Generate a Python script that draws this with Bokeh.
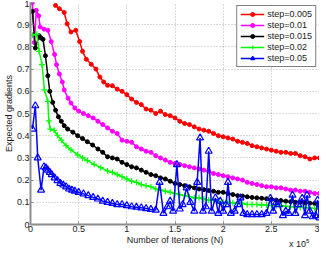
from bokeh.plotting import figure
from bokeh.models import Legend, LegendItem, FixedTicker, Div
from bokeh.layouts import column
from bokeh.embed import file_html
from bokeh.resources import INLINE

# x values are in units of 1e5 iterations
x_ticks = [0, 0.5, 1, 1.5, 2, 2.5, 3]
x_tick_labels = ["0", "0.5", "1", "1.5", "2", "2.5", "3"]
y_ticks = [0, 0.1, 0.2, 0.3, 0.4, 0.5, 0.6, 0.7, 0.8, 0.9, 1.0]
y_tick_labels = ["0", "0.1", "0.2", "0.3", "0.4", "0.5", "0.6", "0.7", "0.8", "0.9", "1"]

tail_x = [0.85, 0.90, 0.95, 1.00, 1.05, 1.10, 1.15, 1.20, 1.25, 1.30, 1.35, 1.40,
          1.45, 1.50, 1.55, 1.60, 1.65, 1.70, 1.75, 1.80, 1.85, 1.90, 1.95, 2.00,
          2.05, 2.10, 2.15, 2.20, 2.25, 2.30, 2.35, 2.40, 2.45, 2.50, 2.55, 2.60,
          2.65, 2.70, 2.75, 2.80, 2.85, 2.90, 2.95, 3.00]

# step = 0.005
red_x = [0.26, 0.30, 0.35, 0.38, 0.42, 0.47, 0.51, 0.54, 0.58, 0.63, 0.68, 0.72, 0.76, 0.80] + tail_x
red_y = [0.987, 0.972, 0.955, 0.904, 0.867, 0.875, 0.824, 0.78, 0.744, 0.722, 0.70, 0.664, 0.642, 0.627,
         0.625, 0.61, 0.60, 0.585, 0.565, 0.55, 0.54, 0.52, 0.515, 0.50, 0.51, 0.495,
         0.49, 0.48, 0.465, 0.455, 0.45, 0.44, 0.43, 0.425, 0.42, 0.41, 0.40, 0.395,
         0.39, 0.385, 0.375, 0.37, 0.365, 0.355, 0.35, 0.345, 0.34, 0.335, 0.33, 0.325,
         0.325, 0.32, 0.32, 0.31, 0.305, 0.295, 0.30, 0.30]

# step = 0.01
mag_x = [0.02, 0.04, 0.06, 0.085, 0.10, 0.14, 0.18, 0.215, 0.25, 0.27, 0.30, 0.33, 0.35,
         0.39, 0.42, 0.46, 0.50, 0.55, 0.60, 0.65, 0.70, 0.75, 0.80] + tail_x
mag_y = [1.0, 0.82, 0.965, 0.94, 0.89, 0.88, 0.875, 0.824, 0.766, 0.72, 0.678, 0.642, 0.606,
         0.569, 0.547, 0.525, 0.511, 0.50, 0.49, 0.48, 0.465, 0.45, 0.435,
         0.42, 0.41, 0.38, 0.375, 0.37, 0.35, 0.34, 0.33, 0.325, 0.31, 0.30, 0.29,
         0.28, 0.275, 0.27, 0.265, 0.26, 0.255, 0.25, 0.245, 0.24, 0.23, 0.225, 0.22,
         0.215, 0.21, 0.205, 0.20, 0.19, 0.185, 0.18, 0.175, 0.17, 0.17, 0.165, 0.165,
         0.16, 0.155, 0.155, 0.15, 0.15, 0.145, 0.14, 0.14]

# step = 0.015
blk_x = [0.02, 0.05, 0.09, 0.11, 0.13, 0.155, 0.18, 0.20, 0.23, 0.26, 0.29, 0.32, 0.35,
         0.385, 0.44, 0.49, 0.54, 0.59, 0.645, 0.70, 0.75, 0.80] + tail_x
blk_y = [0.96, 0.795, 0.85, 0.84, 0.834, 0.76, 0.67, 0.60, 0.55, 0.515, 0.485, 0.465, 0.445,
         0.43, 0.416, 0.40, 0.387, 0.373, 0.358, 0.34, 0.325, 0.305,
         0.30, 0.295, 0.28, 0.27, 0.26, 0.255, 0.245, 0.235, 0.225, 0.22, 0.21, 0.205,
         0.195, 0.185, 0.18, 0.175, 0.17, 0.165, 0.16, 0.157, 0.153, 0.15, 0.145, 0.145,
         0.14, 0.135, 0.13, 0.128, 0.125, 0.122, 0.12, 0.118, 0.116, 0.113, 0.11, 0.108,
         0.105, 0.103, 0.10, 0.10, 0.098, 0.096, 0.095, 0.094]

# step = 0.02
grn_x = [0.02, 0.065, 0.09, 0.12, 0.145, 0.18, 0.19, 0.205, 0.245, 0.28, 0.32, 0.37, 0.42,
         0.49, 0.54, 0.59, 0.66, 0.73, 0.80] + tail_x
grn_y = [0.853, 0.857, 0.78, 0.72, 0.606, 0.555, 0.467, 0.43, 0.424, 0.402, 0.38, 0.355, 0.336,
         0.314, 0.30, 0.288, 0.271, 0.256, 0.241,
         0.235, 0.225, 0.215, 0.205, 0.195, 0.19, 0.18, 0.175, 0.17, 0.16, 0.155, 0.15,
         0.145, 0.14, 0.135, 0.13, 0.125, 0.12, 0.12, 0.115, 0.11, 0.11, 0.105, 0.10,
         0.10, 0.098, 0.095, 0.095, 0.09, 0.09, 0.09, 0.088, 0.088, 0.086, 0.085, 0.084,
         0.082, 0.08, 0.079, 0.078, 0.076, 0.074, 0.072, 0.07]

# step = 0.05
blu_x = [0.02, 0.05, 0.075, 0.11, 0.14, 0.16, 0.18, 0.20, 0.22, 0.25, 0.28, 0.31, 0.34, 0.37,
         0.40, 0.43, 0.46, 0.50, 0.55, 0.60, 0.65, 0.70, 0.75, 0.80, 0.85, 0.90, 0.95, 1.00,
         1.05, 1.10, 1.15, 1.20, 1.25, 1.30, 1.34, 1.38, 1.42, 1.45, 1.48, 1.52, 1.55, 1.58,
         1.62, 1.66, 1.70, 1.73, 1.76, 1.79, 1.82, 1.85, 1.88, 1.92, 1.95, 1.97, 2.00, 2.03,
         2.05, 2.08, 2.12, 2.15, 2.18, 2.21, 2.25, 2.30, 2.35, 2.40, 2.45, 2.49, 2.52, 2.55,
         2.58, 2.62, 2.65, 2.68, 2.72, 2.75, 2.78, 2.82, 2.85, 2.87, 2.90, 2.93, 2.96, 2.98, 3.00]
blu_y = [0.43, 0.535, 0.30, 0.155, 0.26, 0.255, 0.245, 0.235, 0.225, 0.21, 0.198, 0.185, 0.178, 0.17,
         0.16, 0.155, 0.15, 0.145, 0.138, 0.13, 0.122, 0.115, 0.105, 0.10, 0.095, 0.09, 0.09, 0.085,
         0.08, 0.078, 0.075, 0.072, 0.068, 0.065, 0.19, 0.05, 0.08, 0.105, 0.06, 0.27, 0.07, 0.09,
         0.165, 0.10, 0.06, 0.19, 0.39, 0.06, 0.08, 0.33, 0.06, 0.12, 0.05, 0.105, 0.06, 0.09,
         0.19, 0.05, 0.06, 0.09, 0.12, 0.05, 0.045, 0.045, 0.045, 0.045, 0.05, 0.118, 0.06, 0.10,
         0.09, 0.04, 0.06, 0.05, 0.132, 0.05, 0.09, 0.118, 0.04, 0.132, 0.06, 0.035, 0.04, 0.11, 0.03]

labels = ["step=0.005", "step=0.01", "step=0.015", "step=0.02", "step=0.05"]

FONT = "Liberation Sans"
TEXT_COLOR = "#1a1a1a"

p = figure(width=319, height=247, x_range=(0, 3), y_range=(0, 1),
           output_backend="svg", toolbar_location=None,
           min_border_top=2, min_border_right=0, min_border_left=0, min_border_bottom=0)
p.outline_line_color = None
p.background_fill_color = "white"

p.xaxis.ticker = FixedTicker(ticks=x_ticks)
p.yaxis.ticker = FixedTicker(ticks=y_ticks)
p.xaxis.major_label_overrides = {t: s for t, s in zip(x_ticks, x_tick_labels)}
p.yaxis.major_label_overrides = {t: s for t, s in zip(y_ticks, y_tick_labels)}
p.xaxis.axis_label = "Number of Iterations (N)"
p.yaxis.axis_label = "Expected gradients"
for ax in (p.xaxis[0], p.yaxis[0]):
    ax.axis_label_text_font = FONT
    ax.axis_label_text_font_size = "9px"
    ax.axis_label_text_font_style = "normal"
    ax.axis_label_text_color = TEXT_COLOR
    ax.axis_label_standoff = 0
    ax.major_label_text_font = FONT
    ax.major_label_text_font_size = "9px"
    ax.major_label_text_color = TEXT_COLOR
    ax.major_label_standoff = 1
    ax.axis_line_color = "#8c8c8c"
    ax.axis_line_width = 2
    ax.major_tick_in = 3
    ax.major_tick_out = 0
    ax.major_tick_line_color = "#8c8c8c"
    ax.minor_tick_line_color = None

for g in (p.xgrid[0], p.ygrid[0]):
    g.grid_line_color = "#b4b4b4"
    g.grid_line_dash = "1 2"
    g.grid_line_width = 1

r1l = p.line(red_x, red_y, line_color="#ff0000", line_width=1.5)
r1s = p.scatter(red_x, red_y, marker="circle", size=4, fill_color="#ff0000", line_color="#ff0000")
r2l = p.line(mag_x, mag_y, line_color="#ff00ff", line_width=1.5)
r2s = p.scatter(mag_x, mag_y, marker="circle", size=4, fill_color="#ff00ff", line_color="#ff00ff")
r3l = p.line(blk_x, blk_y, line_color="black", line_width=1.5)
r3s = p.scatter(blk_x, blk_y, marker="circle", size=4, fill_color="black", line_color="black")
r4l = p.line(grn_x, grn_y, line_color="#00ff00", line_width=1.5)
r4s = p.scatter(grn_x, grn_y, marker="cross", size=6, line_color="#00ff00", line_width=1.2)
r5l = p.line(blu_x, blu_y, line_color="#0000ff", line_width=1.5)
r5s = p.scatter(blu_x, blu_y, marker="triangle", size=7, fill_color="white", fill_alpha=0.0,
                line_color="#0000ff", line_width=1.2)

items = [LegendItem(label=labels[0], renderers=[r1l, r1s]),
         LegendItem(label=labels[1], renderers=[r2l, r2s]),
         LegendItem(label=labels[2], renderers=[r3l, r3s]),
         LegendItem(label=labels[3], renderers=[r4l, r4s]),
         LegendItem(label=labels[4], renderers=[r5l, r5s])]
legend = Legend(items=items, location="top_right")
legend.label_text_font = FONT
legend.label_text_font_size = "9px"
legend.label_text_color = TEXT_COLOR
legend.glyph_width = 24
legend.glyph_height = 10
legend.label_height = 10
legend.label_standoff = 3
legend.spacing = 1
legend.padding = 3
legend.margin = 3
legend.border_line_color = "black"
legend.border_line_width = 1
legend.background_fill_color = "white"
legend.background_fill_alpha = 1.0
p.add_layout(legend)

exp_div = Div(text="x 10<sup style='font-size:6px'>5</sup>", width=30, height=12,
              margin=(-12, 0, 0, 289),
              styles={"font-family": FONT, "font-size": "9px", "line-height": "12px",
                      "color": TEXT_COLOR})

layout = column(p, exp_div, spacing=0)
open("out.html", "w").write(file_html(layout, INLINE))
